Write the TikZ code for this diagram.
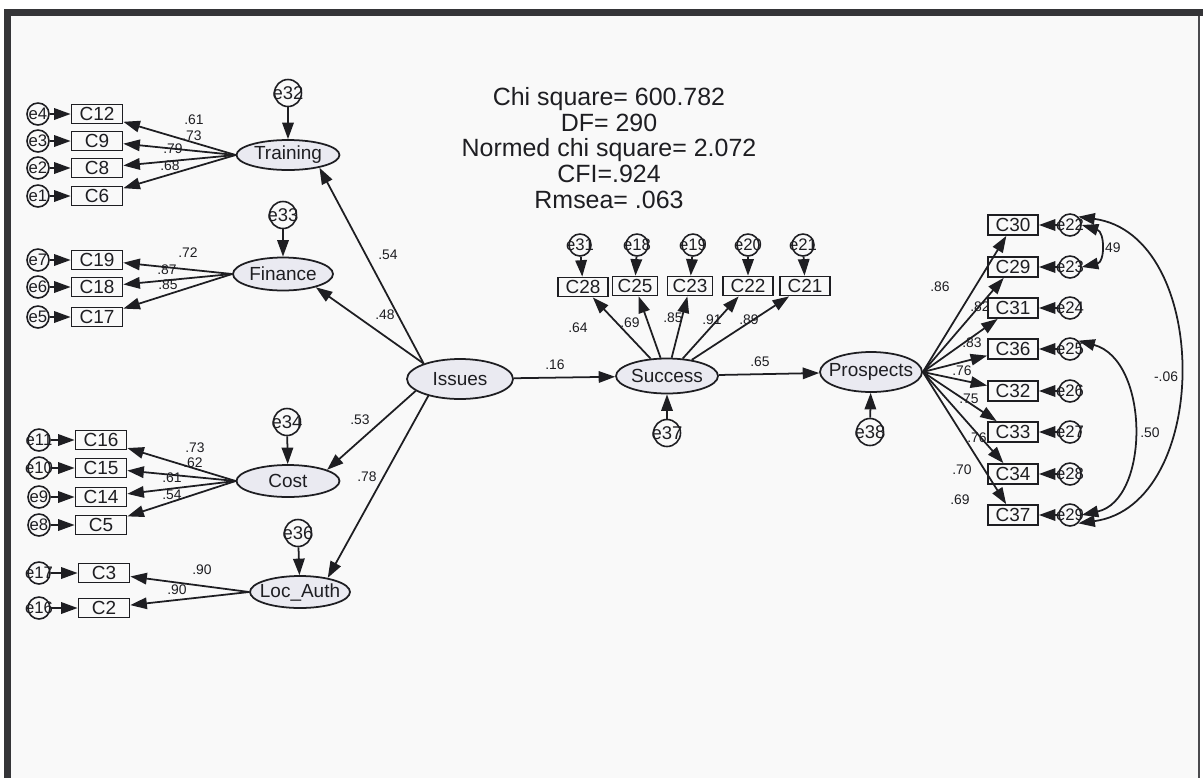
\documentclass[tikz,border=0pt]{standalone}
\usepackage{fontspec}
\setmainfont{Liberation Sans}
\usetikzlibrary{shapes.geometric,arrows.meta}
\definecolor{latfill}{RGB}{234,234,241}
\definecolor{ink}{RGB}{30,30,34}
\definecolor{bg}{RGB}{249,249,249}
\tikzset{
  lat/.style={ellipse, draw=ink, fill=latfill, line width=1pt, inner sep=0pt, text=ink, font=\fontsize{10.8}{12}\selectfont},
  obs/.style={rectangle, draw=ink, line width=1pt, inner sep=0pt, minimum width=1.02cm, minimum height=0.38cm, text=ink, font=\fontsize{10.8}{12}\selectfont},
  err/.style={circle, draw=ink, line width=0.9pt, inner sep=0pt, minimum size=0.44cm, text=ink, font=\fontsize{9.5}{10}\selectfont},
  dist/.style={circle, draw=ink, line width=0.9pt, inner sep=0pt, minimum size=0.54cm, text=ink, font=\fontsize{10.5}{11}\selectfont},
  link/.style={-{Triangle[length=0.33cm,width=0.23cm]}, line width=1pt, draw=ink, fill=ink},
  cov/.style={{Triangle[length=0.33cm,width=0.23cm]}-{Triangle[length=0.33cm,width=0.23cm]}, line width=1pt, draw=ink},
  coef/.style={inner sep=0pt, text=ink, font=\fontsize{7.9}{9}\selectfont},
}
\newcommand{\zb}[1]{\makebox[0pt]{#1}}
\begin{document}
\begin{tikzpicture}[x=0.02cm, y=-0.02cm]
\useasboundingbox (0,0) rectangle (1203,778);
\fill[white] (0,0) rectangle (1203,778);
\fill[bg] (11,16) rectangle (1199,778);
% frame
\fill[ink!90] (4,9) rectangle (1203,16);
\fill[ink!90] (4,9) rectangle (11,778);
\draw[ink!80, line width=0.6pt] (1199,16) -- (1199,778);

% fit statistics
\node[align=center, text=ink, font=\fontsize{14.2}{14.7}\selectfont] (fit) at (609,148)
  {Chi square= 600.782\\DF= 290\\Normed chi square= 2.072\\CFI=.924\\Rmsea= .063};

% latent variables
\node[lat, minimum width=2.06cm, minimum height=0.6cm] (Training) at (288,155) {\zb{Training}};
\node[lat, minimum width=2.0cm, minimum height=0.66cm] (Finance) at (283,274) {\zb{Finance}};
\node[lat, minimum width=2.06cm, minimum height=0.64cm] (Cost) at (288,481) {\zb{Cost}};
\node[lat, minimum width=2.0cm, minimum height=0.64cm] (Loc) at (300,592) {\zb{Loc\_Auth}};
\node[lat, minimum width=2.12cm, minimum height=0.8cm] (Issues) at (460,379) {\zb{Issues}};
\node[lat, minimum width=2.04cm, minimum height=0.7cm] (Success) at (667,376) {\zb{Success}};
\node[lat, minimum width=2.04cm, minimum height=0.8cm] (Prospects) at (871,372) {\zb{Prospects}};

% disturbances
\node[dist] (e32) at (288,93) {\zb{e32}};
\node[dist] (e33) at (283,215) {\zb{e33}};
\node[dist] (e34) at (287,422) {\zb{e34}};
\node[dist] (e36) at (298,533) {\zb{e36}};
\node[dist] (e37) at (667,433) {\zb{e37}};
\node[dist] (e38) at (870,432) {\zb{e38}};

% Training indicators
\node[obs] (C12) at (97,114) {C12};
\node[obs] (C9) at (97,141) {C9};
\node[obs] (C8) at (97,168) {C8};
\node[obs] (C6) at (97,196) {C6};
\node[err] (e4) at (38,114) {\zb{e4}};
\node[err] (e3) at (38,141) {\zb{e3}};
\node[err] (e2) at (38,168) {\zb{e2}};
\node[err] (e1) at (38,196) {\zb{e1}};
% Finance indicators
\node[obs] (C19) at (97,260) {C19};
\node[obs] (C18) at (97,287) {C18};
\node[obs] (C17) at (97,317) {C17};
\node[err] (e7) at (38,260) {\zb{e7}};
\node[err] (e6) at (38,287) {\zb{e6}};
\node[err] (e5) at (38,317) {\zb{e5}};
% Cost indicators
\node[obs] (C16) at (101,440) {C16};
\node[obs] (C15) at (101,468) {C15};
\node[obs] (C14) at (101,497) {C14};
\node[obs] (C5) at (101,525) {C5};
\node[err] (e11) at (39,440) {\zb{e11}};
\node[err] (e10) at (39,468) {\zb{e10}};
\node[err] (e9) at (39,497) {\zb{e9}};
\node[err] (e8) at (39,525) {\zb{e8}};
% Loc_Auth indicators
\node[obs] (C3) at (104,573) {C3};
\node[obs] (C2) at (104,608) {C2};
\node[err] (e17) at (39,573) {\zb{e17}};
\node[err] (e16) at (39,608) {\zb{e16}};

% Success indicators
\node[obs, minimum width=1.0cm] (C28) at (583,287) {C28};
\node[obs, minimum width=0.9cm] (C25) at (635,286) {C25};
\node[obs, minimum width=0.9cm] (C23) at (690,286) {C23};
\node[obs, minimum width=1.0cm] (C22) at (748,286) {C22};
\node[obs, minimum width=1.0cm] (C21) at (805,286) {C21};
\node[err] (e31) at (580,245) {\zb{e31}};
\node[err] (e18) at (637,245) {\zb{e18}};
\node[err] (e19) at (693,245) {\zb{e19}};
\node[err] (e20) at (748,245) {\zb{e20}};
\node[err] (e21) at (803,245) {\zb{e21}};

% Prospects indicators
\node[obs, minimum width=1.0cm, minimum height=0.4cm] (C30) at (1013,225) {C30};
\node[obs, minimum width=1.0cm, minimum height=0.4cm] (C29) at (1013,267) {C29};
\node[obs, minimum width=1.0cm, minimum height=0.4cm] (C31) at (1013,308) {C31};
\node[obs, minimum width=1.0cm, minimum height=0.4cm] (C36) at (1013,349) {C36};
\node[obs, minimum width=1.0cm, minimum height=0.4cm] (C32) at (1013,391) {C32};
\node[obs, minimum width=1.0cm, minimum height=0.4cm] (C33) at (1013,432) {C33};
\node[obs, minimum width=1.0cm, minimum height=0.4cm] (C34) at (1013,474) {C34};
\node[obs, minimum width=1.0cm, minimum height=0.4cm] (C37) at (1013,515) {C37};
\node[err] (e22) at (1070,225) {\zb{e22}};
\node[err] (e23) at (1070,267) {\zb{e23}};
\node[err] (e24) at (1070,308) {\zb{e24}};
\node[err] (e25) at (1070,349) {\zb{e25}};
\node[err] (e26) at (1070,391) {\zb{e26}};
\node[err] (e27) at (1070,432) {\zb{e27}};
\node[err] (e28) at (1070,474) {\zb{e28}};
\node[err] (e29) at (1070,515) {\zb{e29}};

% error arrows
\foreach \e/\c in {e4/C12,e3/C9,e2/C8,e1/C6,e7/C19,e6/C18,e5/C17,e11/C16,e10/C15,e9/C14,e8/C5,e17/C3,e16/C2,
  e31/C28,e18/C25,e19/C23,e20/C22,e21/C21,
  e22/C30,e23/C29,e24/C31,e25/C36,e26/C32,e27/C33,e28/C34,e29/C37,
  e32/Training,e33/Finance,e34/Cost,e36/Loc,e37/Success,e38/Prospects}
  \draw[link] (\e) -- (\c);

% loadings
\foreach \c in {C12,C9,C8,C6} \draw[link] (Training.west) -- (\c);
\foreach \c in {C19,C18,C17} \draw[link] (Finance.west) -- (\c);
\foreach \c in {C16,C15,C14,C5} \draw[link] (Cost.west) -- (\c);
\foreach \c in {C3,C2} \draw[link] (Loc.west) -- (\c);
\foreach \c in {C28,C25,C23,C22,C21} \draw[link] (Success) -- (\c);
\foreach \c in {C30,C29,C31,C36,C32,C33,C34,C37} \draw[link] (Prospects.east) -- (\c);

% structural paths
\draw[link] (Issues.157) -- (Training.-22);
\draw[link] (Issues.157) -- (Finance.-22);
\draw[link] (Issues.195) -- (Cost.16);
\draw[link] (Issues.208) -- (Loc.27);
\draw[link] (Issues) -- (Success);
\draw[link] (Success) -- (Prospects);

% covariances
\draw[cov] (e22.east) .. controls (1105,232) and (1105,262) .. (e23.east);
\draw[cov] (e25.north east) .. controls (1150,360) and (1150,500) .. (e29.east);
\draw[cov] (e22.north east) .. controls (1212,235) and (1212,505) .. (e29.south east);

% coefficients
\node[coef] (l1) at (194,120) {.61};
\node[coef] (l2) at (192,136) {.73};
\node[coef] (l3) at (173,149) {.79};
\node[coef] (l4) at (170,166) {.68};
\node[coef] (l5) at (188,253) {.72};
\node[coef] (l6) at (167,270) {.87};
\node[coef] (l7) at (168,285) {.85};
\node[coef] (l8) at (195,448) {.73};
\node[coef] (l9) at (193,463) {.62};
\node[coef] (l10) at (172,478) {.61};
\node[coef] (l11) at (172,495) {.54};
\node[coef] (l12) at (202,570) {.90};
\node[coef] (l13) at (177,590) {.90};
\node[coef] (l14) at (388,255) {.54};
\node[coef] (l15) at (385,315) {.48};
\node[coef] (l16) at (360,420) {.53};
\node[coef] (l17) at (367,477) {.78};
\node[coef] (l18) at (555,365) {.16};
\node[coef] (l19) at (578,328) {.64};
\node[coef] (l20) at (630,323) {.69};
\node[coef] (l21) at (673,318) {.85};
\node[coef] (l22) at (712,320) {.91};
\node[coef] (l23) at (749,320) {.89};
\node[coef] (l24) at (760,362) {.65};
\node[coef] (l25) at (940,287) {.86};
\node[coef] (l26) at (980,307) {.82};
\node[coef] (l27) at (972,343) {.83};
\node[coef] (l28) at (962,371) {.76};
\node[coef] (l29) at (969,399) {.75};
\node[coef] (l30) at (977,438) {.76};
\node[coef] (l31) at (962,470) {.70};
\node[coef] (l32) at (960,500) {.69};
\node[coef] (l33) at (1111,248) {.49};
\node[coef] (l34) at (1166,377) {-.06};
\node[coef] (l35) at (1150,433) {.50};
\end{tikzpicture}
\end{document}
